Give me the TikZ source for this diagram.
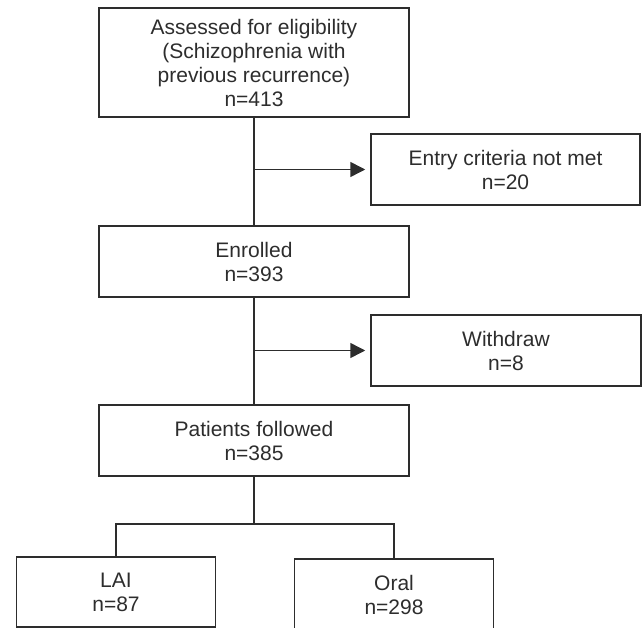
\documentclass[tikz,border=0pt]{standalone}
\usepackage{fontspec}
\setmainfont{Liberation Sans}
\usetikzlibrary{arrows.meta}
\definecolor{ink}{RGB}{45,45,45}

\begin{document}
\begin{tikzpicture}[x=1pt, y=-1pt,
	box/.style={rectangle, draw=ink, line width=1.5pt, text=ink, align=center, inner sep=0pt, font=\fontsize{21}{24}\selectfont},
	link/.style={draw=ink, line width=1.5pt},
	arr/.style={link, -{Triangle[length=15pt, width=15pt]}, shorten >=5pt}]
			\useasboundingbox (0,0) rectangle (642,628);
			
			\node[box, minimum width=310pt, minimum height=109pt] (assess) at (254,62.5){Assessed for eligibility\\(Schizophrenia with\\previous recurrence)\\n=413};
			\node[box, minimum width=269pt, minimum height=71pt] (entry) at (505.5,169.5){Entry criteria not met\\n=20};
			\node[box, minimum width=310pt, minimum height=71pt] (enrol) at (254,261.5){Enrolled\\n=393};
			\node[box, minimum width=270pt, minimum height=71pt] (withdraw) at (506,350.5){Withdraw\\n=8};
			\node[box, minimum width=310pt, minimum height=71pt] (follow) at (254,440.5){Patients followed\\n=385};
			\node[box, minimum width=199pt, minimum height=70pt] (lai) at (116,592){LAI\\n=87};
			\node[box, minimum width=199pt, minimum height=71pt] (oral) at (394,594.5){Oral\\n=298};
			
			\coordinate (fork) at (254,524);
			
			\draw[link] (assess) -- (enrol);
			\draw[link] (enrol) -- (follow);
			\draw[link] (follow) -- (fork);
			\draw[arr] (assess.south |- entry.west) -- (entry.west);
			\draw[arr] (enrol.south |- withdraw.west) -- (withdraw.west);
			\draw[link] (lai.north) |- (fork) -| (oral.north);
			\end{tikzpicture}
\end{document}
